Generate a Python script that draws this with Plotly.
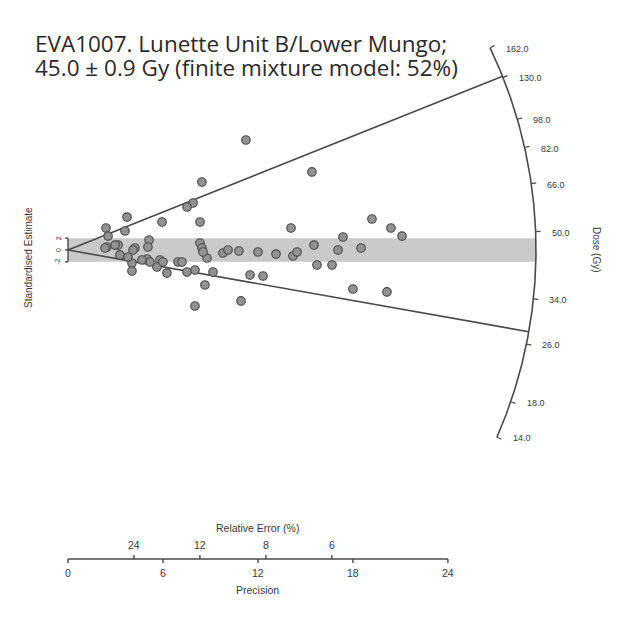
import numpy as np
import plotly.graph_objects as go

# ---------------- data ----------------
title_line1 = "EVA1007. Lunette Unit B/Lower Mungo;"
title_line2 = "45.0 ± 0.9 Gy (finite mixture model: 52%)"

central_dose = 45.0            # Gy, centre of the shaded band
component_doses = [131.0, 28.0]  # lines from origin
dose_ticks = [162.0, 130.0, 98.0, 82.0, 66.0, 50.0, 34.0, 26.0, 18.0, 14.0]
dose_min, dose_max = 14.0, 162.0
precision_ticks = [0, 6, 12, 18, 24]
relerr_ticks = [24, 12, 8, 6]
z_ticks = [2, 0, -2]

# precision (1/relative error) and standardised estimate of each aliquot
precision = [11.24, 15.41, 8.46, 7.90, 7.52, 3.73, 5.94, 8.34, 14.09, 19.20,
             20.40, 21.10, 17.37, 2.40, 2.53, 3.60, 5.12, 8.34, 15.54, 18.51,
             17.06, 8.46, 4.23, 2.46, 3.16, 5.05, 8.78, 9.79, 10.11, 10.80,
             12.00, 13.14, 14.21, 14.47, 15.73, 16.68, 4.04, 3.28, 3.79, 4.99,
             5.81, 6.95, 5.62, 6.25, 7.52, 4.04, 9.16, 11.50, 12.32, 8.65,
             10.93, 8.02, 18.00, 20.15, 2.97, 6.00, 7.20, 8.02, 4.67, 5.18,
             4.11, 2.34, 8.53]
std_estimate = [18.58, 13.18, 11.49, 7.94, 7.26, 5.57, 4.73, 4.73, 3.72, 5.24,
                3.72, 2.36, 2.20, 3.72, 2.36, 3.21, 1.69, 1.18, 0.84, 0.34,
                0.00, 0.34, 0.34, 0.51, 0.84, 0.51, -1.35, -0.51, 0.00, -0.17,
                -0.34, -0.68, -1.01, -0.34, -2.53, -2.53, -2.20, -0.84, -1.18, -1.52,
                -1.69, -2.03, -2.87, -3.89, -3.72, -3.55, -3.72, -4.22, -4.39, -5.91,
                -8.61, -9.46, -6.59, -7.09, 0.84, -2.03, -2.03, -3.38, -1.69, -2.03,
                0.00, 0.34, -0.34]

# ---------------- layout constants ----------------
PAGE_W, PAGE_H = 628, 622
BODY = 8                  # default page margin around the plot div
W, H = PAGE_W - BODY, PAGE_H - BODY
OX, OY = 68.0, 250.0      # pixel position (in page) of the radial origin
SX, SY = 15.83, 5.92      # pixels per unit of precision / standardised estimate
R_ARC = 468.0             # arc radius in pixels
AXIS_PY = 559.0           # pixel row of the precision axis

def X(px):
    return (px - OX) / SX

def Y(py):
    return (OY - py) / SY

def arc_point(dose, r_px):
    m = np.log(dose / central_dose)
    n = np.sqrt(SX ** 2 + (SY * m) ** 2)
    return r_px / n, r_px * m / n

def to_px(x, y):
    return OX + x * SX, OY - y * SY

LINE = "#4a4a4a"
TXT = "#3a3a3a"
FAM = "Liberation Sans, Arial, sans-serif"
SMALL = dict(family=FAM, size=9, color=TXT)

fig = go.Figure()
ann = []

# shaded ±2 band, closed on the arc
ys = np.linspace(-2, 2, 30)
band_x = [0]
band_y = [-2]
for yy in ys:
    py = OY - yy * SY
    px = OX + np.sqrt(R_ARC ** 2 - (py - OY) ** 2)
    band_x.append(X(px)); band_y.append(yy)
band_x.append(0); band_y.append(2)
fig.add_trace(go.Scatter(x=band_x, y=band_y, fill="toself", mode="lines",
                         line=dict(width=0), fillcolor="#c9c9c9",
                         hoverinfo="skip", showlegend=False))

# component lines
for d in component_doses:
    ex, ey = arc_point(d, R_ARC)
    fig.add_trace(go.Scatter(x=[0, ex], y=[0, ey], mode="lines",
                             line=dict(color=LINE, width=1.6),
                             hoverinfo="skip", showlegend=False))

# arc
ds = np.geomspace(dose_min, dose_max, 300)
pts = [arc_point(d, R_ARC) for d in ds]
fig.add_trace(go.Scatter(x=[p[0] for p in pts], y=[p[1] for p in pts], mode="lines",
                         line=dict(color=LINE, width=1.6),
                         hoverinfo="skip", showlegend=False))

# arc ticks and labels
tx, ty = [], []
for d in dose_ticks:
    x0, y0 = arc_point(d, R_ARC)
    x1, y1 = arc_point(d, R_ARC + 5)
    tx += [x0, x1, None]; ty += [y0, y1, None]
    px, py = to_px(x0, y0)
    ann.append(dict(x=X(px + 14), y=Y(py + 1), text=f"{d:.1f}", showarrow=False,
                    xanchor="left", yanchor="middle", font=SMALL))
fig.add_trace(go.Scatter(x=tx, y=ty, mode="lines", line=dict(color=LINE, width=1.2),
                         hoverinfo="skip", showlegend=False))

# points
fig.add_trace(go.Scatter(x=precision, y=std_estimate, mode="markers",
                         marker=dict(size=8.5, color="#929292",
                                     line=dict(color="#4d4d4d", width=1.2)),
                         showlegend=False))

# small z axis at origin
zx, zy = [0, 0, None], [min(z_ticks), max(z_ticks), None]
for z in z_ticks:
    zx += [0, X(OX - 3), None]; zy += [z, z, None]
    ann.append(dict(x=X(OX - 10), y=z, text=str(z), showarrow=False, textangle=-90,
                    xanchor="center", yanchor="middle",
                    font=dict(family=FAM, size=7, color=TXT)))
fig.add_trace(go.Scatter(x=zx, y=zy, mode="lines", line=dict(color=LINE, width=1.4),
                         hoverinfo="skip", showlegend=False))
ann.append(dict(x=X(28), y=Y(258), text="Standardised Estimate", showarrow=False,
                textangle=-90, xanchor="center", yanchor="middle",
                font=dict(family=FAM, size=10, color=TXT)))
ann.append(dict(x=X(597), y=Y(250), text="Dose (Gy)", showarrow=False,
                textangle=90, xanchor="center", yanchor="middle",
                font=dict(family=FAM, size=10, color=TXT)))

# precision axis with relative-error ticks on top
ay = Y(AXIS_PY)
px_ax, py_ax = [min(precision_ticks), max(precision_ticks), None], [ay, ay, None]
for p in precision_ticks:
    px_ax += [p, p, None]; py_ax += [ay, Y(AXIS_PY + 4), None]
    ann.append(dict(x=p, y=Y(573), text=str(p), showarrow=False,
                    xanchor="center", yanchor="middle",
                    font=dict(family=FAM, size=10.5, color=TXT)))
for re_ in relerr_ticks:
    p = 100.0 / re_
    px_ax += [p, p, None]; py_ax += [ay, Y(AXIS_PY - 4), None]
    ann.append(dict(x=p, y=Y(545), text=str(re_), showarrow=False,
                    xanchor="center", yanchor="middle",
                    font=dict(family=FAM, size=10.5, color=TXT)))
fig.add_trace(go.Scatter(x=px_ax, y=py_ax, mode="lines", line=dict(color=LINE, width=1.4),
                         hoverinfo="skip", showlegend=False))
ann.append(dict(x=12, y=Y(590), text="Precision", showarrow=False,
                xanchor="center", yanchor="middle",
                font=dict(family=FAM, size=10.5, color=TXT)))
ann.append(dict(x=12, y=Y(528), text="Relative Error (%)", showarrow=False,
                xanchor="center", yanchor="middle",
                font=dict(family=FAM, size=10.5, color=TXT)))

# title (two lines)
TF = dict(family="Open Sans, sans-serif", size=22.5, color="#2a2a2a")
ann.append(dict(x=X(33), y=Y(43), text=title_line1, showarrow=False,
                xanchor="left", yanchor="middle", font=TF))
ann.append(dict(x=X(33), y=Y(67), text=title_line2, showarrow=False,
                xanchor="left", yanchor="middle", font=TF))

fig.update_layout(
    width=W, height=H, margin=dict(l=0, r=0, t=0, b=0, pad=0),
    paper_bgcolor="white", plot_bgcolor="white",
    xaxis=dict(range=[X(BODY), X(PAGE_W)], visible=False, fixedrange=True),
    yaxis=dict(range=[Y(PAGE_H), Y(BODY)], visible=False, fixedrange=True),
    annotations=ann, showlegend=False,
)
fig.write_html("out.html")
